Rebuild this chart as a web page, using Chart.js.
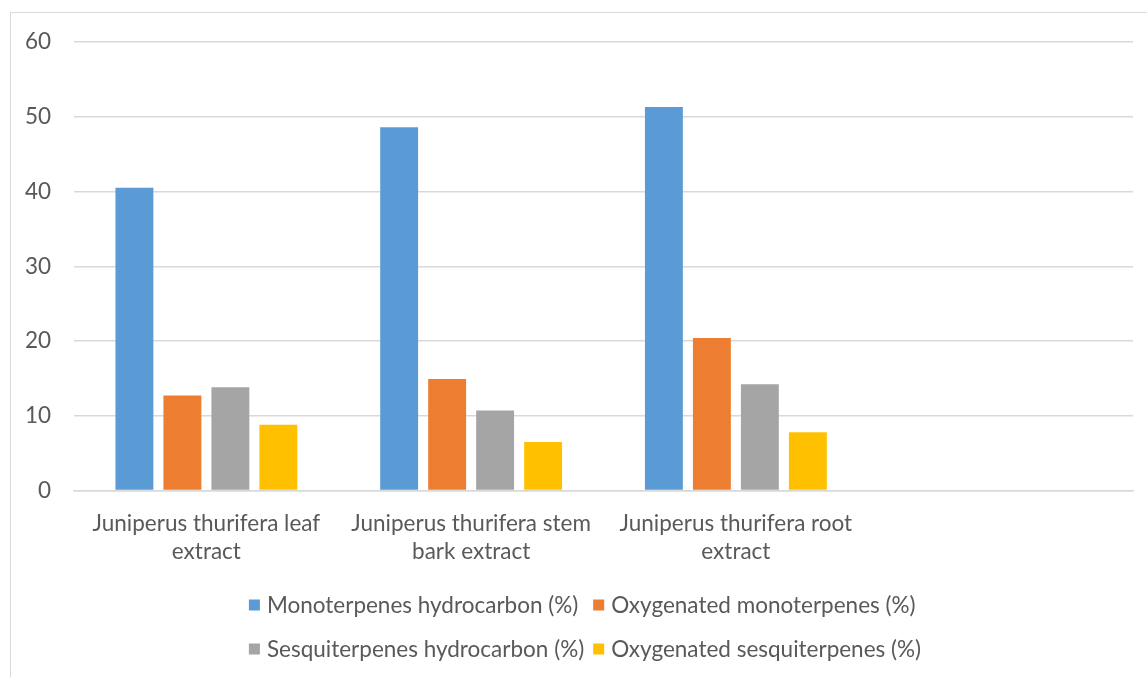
<!DOCTYPE html>
<html>
<head>
<meta charset="utf-8">
<script src="https://cdn.jsdelivr.net/npm/chart.js@4"></script>
<style>
    html, body { margin: 0; padding: 0; background: #fff; overflow: hidden; }
    #frame { position: absolute; left: 10px; top: 12px; width: 1200px; height: 700px; border: 1px solid #d9d9d9; }
    #wrap { position: absolute; left: 0; top: 0; width: 1147px; height: 677px; }
</style>
</head>
<body>
<div id="frame"></div>
<div id="wrap"><canvas id="chart"></canvas></div>
<script>
// Categorias y series
const categorias = [
    ['Juniperus thurifera leaf', 'extract'],
    ['Juniperus thurifera stem', 'bark extract'],
    ['Juniperus thurifera root', 'extract'],
    ''
];
const monoHidro = [40.5, 48.6, 51.3, null];
const monoOxi = [12.7, 14.9, 20.4, null];
const sesqHidro = [13.8, 10.7, 14.2, null];
const sesqOxi = [8.8, 6.5, 7.8, null];

const nombresSeries = [
    'Monoterpenes hydrocarbon (%)',
    'Oxygenated monoterpenes (%)',
    'Sesquiterpenes hydrocarbon (%)',
    'Oxygenated sesquiterpenes (%)'
];
const colores = ['#5B9BD5', '#ED7D31', '#A5A5A5', '#FFC000'];
const ticksY = [0, 10, 20, 30, 40, 50, 60];

const fuente = 'Lato, "Open Sans", sans-serif';
const colorTexto = '#595959';
const tamFuente = 22.5;

// Leyenda en dos filas y dos columnas, dibujada en el canvas
const leyendaPlugin = {
    id: 'leyenda2filas',
    afterDraw(chart) {
        const ctx = chart.ctx;
        const filas = [[0, 1], [2, 3]];
        const filasY = [605, 649];
        const caja = 11, sep = 7, hueco = 9;
        ctx.save();
        ctx.font = tamFuente + 'px ' + fuente;
        ctx.textBaseline = 'middle';
        const etiquetas = chart.data.datasets.map(ds => ds.label);
        const anchoCol = [0, 1].map(c => Math.max(...filas.map(f => caja + sep + ctx.measureText(etiquetas[f[c]]).width)));
        const total = anchoCol[0] + hueco + anchoCol[1];
        const x0 = 585 - total / 2;
        filas.forEach((fila, i) => {
            let x = x0;
            fila.forEach((idx, j) => {
                const ds = chart.data.datasets[idx];
                ctx.fillStyle = ds.backgroundColor;
                ctx.fillRect(x, filasY[i] - 5.5, caja, caja);
                ctx.fillStyle = colorTexto;
                ctx.fillText(ds.label, x + caja + sep, filasY[i] + 1);
                x += anchoCol[j] + hueco;
            });
        });
        ctx.restore();
    }
};

const series = [monoHidro, monoOxi, sesqHidro, sesqOxi];

new Chart(document.getElementById('chart').getContext('2d'), {
    type: 'bar',
    data: {
        labels: categorias,
        datasets: series.map((valores, i) => ({
            label: nombresSeries[i],
            data: valores,
            backgroundColor: colores[i],
            borderWidth: 0,
            categoryPercentage: 0.725,
            barPercentage: 0.79
        }))
    },
    options: {
        responsive: true,
        maintainAspectRatio: false,
        animation: false,
        layout: { padding: { left: 0, right: 14, top: 42, bottom: 116.5 } },
        plugins: {
            legend: { display: false },
            tooltip: { enabled: false }
        },
        scales: {
            x: {
                grid: { display: false, drawTicks: false },
                border: { display: true, color: '#d9d9d9', width: 1.5 },
                ticks: {
                    color: colorTexto,
                    font: { family: fuente, size: tamFuente, lineHeight: 1.25 },
                    padding: 19,
                    maxRotation: 0,
                    autoSkip: false
                },
                afterFit(scale) { scale.height = 70; }
            },
            y: {
                min: 0,
                max: 60,
                afterBuildTicks(scale) { scale.ticks = ticksY.map(v => ({ value: v })); },
                grid: { color: '#d9d9d9', lineWidth: 1.5, drawTicks: false },
                border: { display: false },
                ticks: {
                    color: colorTexto,
                    font: { family: fuente, size: tamFuente },
                    padding: 23
                },
                afterFit(scale) { scale.width = 74; }
            }
        }
    },
    plugins: [leyendaPlugin]
});
</script>
</body>
</html>
